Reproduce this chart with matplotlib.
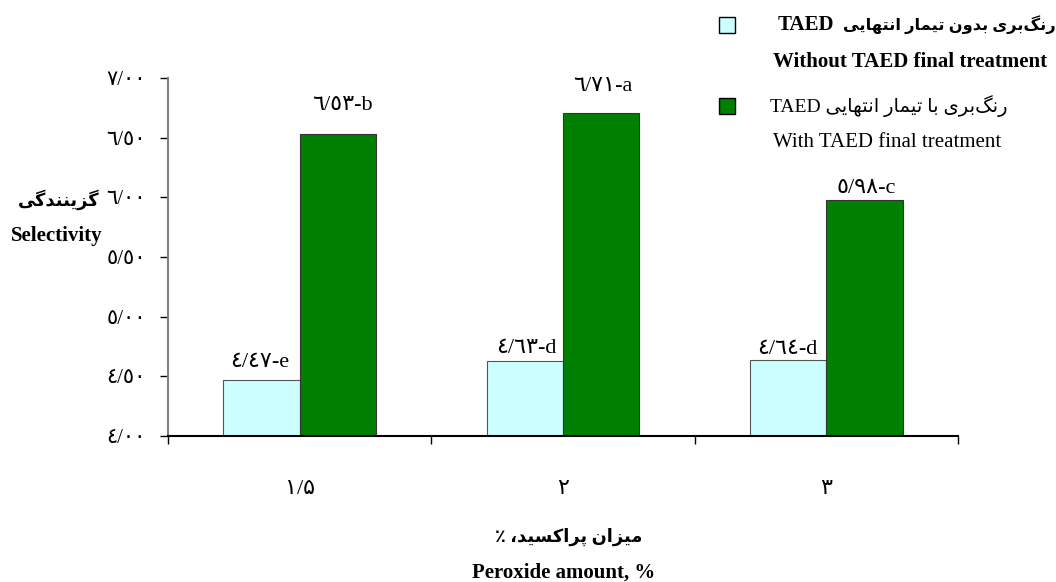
import numpy as np
import matplotlib
matplotlib.use('Agg')
import matplotlib.pyplot as plt
from matplotlib.patches import Rectangle

# Data
doses = ['١/۵', '٢', '٣']                  # peroxide amount, %
without_taed = [4.47, 4.63, 4.64]
with_taed = [6.53, 6.71, 5.98]
without_letters = ['e', 'd', 'd']
with_letters = ['b', 'a', 'c']
y_ticks = [4.0, 4.5, 5.0, 5.5, 6.0, 6.5, 7.0]

LIGHT = '#CCFFFF'
GREEN = '#008000'
FONT = ['Liberation Serif', 'DejaVu Sans']

plt.rcParams['font.family'] = FONT
plt.rcParams['font.size'] = 15

# contextual forms (isolated, final, initial, medial)
FORMS = {
    'ا': ('\uFE8D', '\uFE8E', None, None),
    'ب': ('\uFE8F', '\uFE90', '\uFE91', '\uFE92'),
    'پ': ('\uFB56', '\uFB57', '\uFB58', '\uFB59'),
    'ت': ('\uFE95', '\uFE96', '\uFE97', '\uFE98'),
    'د': ('\uFEA9', '\uFEAA', None, None),
    'ر': ('\uFEAD', '\uFEAE', None, None),
    'ز': ('\uFEAF', '\uFEB0', None, None),
    'س': ('\uFEB1', '\uFEB2', '\uFEB3', '\uFEB4'),
    'ک': ('\uFB8E', '\uFB8F', '\uFB90', '\uFB91'),
    'گ': ('\uFB92', '\uFB93', '\uFB94', '\uFB95'),
    'م': ('\uFEE1', '\uFEE2', '\uFEE3', '\uFEE4'),
    'ن': ('\uFEE5', '\uFEE6', '\uFEE7', '\uFEE8'),
    'ه': ('\uFEE9', '\uFEEA', '\uFEEB', '\uFEEC'),
    'و': ('\uFEED', '\uFEEE', None, None),
    'ی': ('\uFBFC', '\uFBFD', '\uFBFE', '\uFBFF'),
}


def rtl(text):
    """Shape a Persian run and return it in visual (left-to-right) order."""
    def dual(c):
        return c in FORMS and FORMS[c][2] is not None

    out = []
    for i, c in enumerate(text):
        if c == '\u200c':
            continue
        if c not in FORMS:
            out.append(c)
            continue
        prev = text[i - 1] if i > 0 else ''
        nxt = text[i + 1] if i + 1 < len(text) else ''
        jp = dual(prev)
        jn = dual(c) and nxt in FORMS
        iso, fin, ini, med = FORMS[c]
        if jp and jn:
            out.append(med)
        elif jp:
            out.append(fin)
        elif jn:
            out.append(ini)
        else:
            out.append(iso)
    return ''.join(reversed(out))


def arabic_num(v):
    """4.47 -> ٤/٤٧"""
    s = f'{v:.2f}'.replace('.', '/')
    return s.translate(str.maketrans('0123456789', '٠١٢٣٤٥٦٧٨٩'))


fig = plt.figure(figsize=(10.56, 5.82), dpi=100)
ax = fig.add_axes([0.1591, 0.2509, 0.7481, 0.6151])

x = np.arange(len(doses))
w = 0.29
ax.bar(x - w / 2, without_taed, w, bottom=0, color=LIGHT, edgecolor='#555555', linewidth=0.8, zorder=2)
ax.bar(x + w / 2, with_taed, w, bottom=0, color=GREEN, edgecolor='#333333', linewidth=0.8, zorder=2)

# value labels (offsets follow the hand placed labels in the original)
light_off = [(-2, 8), (1, 3), (-1, 1)]
green_off = [(5, 19), (2, 17), (2, 2)]
for i in range(len(doses)):
    ax.annotate(arabic_num(without_taed[i]) + '-' + without_letters[i],
                (x[i] - w / 2, without_taed[i]), xytext=np.array(light_off[i]) * 0.72,
                textcoords='offset points', ha='center', va='bottom', fontsize=16)
    ax.annotate(arabic_num(with_taed[i]) + '-' + with_letters[i],
                (x[i] + w / 2, with_taed[i]), xytext=np.array(green_off[i]) * 0.72,
                textcoords='offset points', ha='center', va='bottom', fontsize=16)

ax.set_ylim(4.0, 7.0)
ax.set_xlim(-0.5, len(doses) - 0.5)

ax.set_yticks(y_ticks)
ax.set_yticklabels([arabic_num(t) for t in y_ticks], fontsize=15)
ax.tick_params(axis='y', direction='out', length=6, width=1, pad=10, colors='black')

# category boundaries as major ticks, labels on minor ticks
ax.set_xticks(np.arange(len(doses) + 1) - 0.5)
ax.set_xticklabels([])
ax.set_xticks(x, minor=True)
ax.set_xticklabels(doses, minor=True, fontsize=16)
ax.tick_params(axis='x', which='major', direction='out', length=6, width=1)
ax.tick_params(axis='x', which='minor', length=0, pad=32)

for s in ['top', 'right']:
    ax.spines[s].set_visible(False)
ax.spines['left'].set_color('#808080')
ax.spines['left'].set_linewidth(1.5)
ax.spines['bottom'].set_color('black')
ax.spines['bottom'].set_linewidth(1.5)

# axis titles
fig.text(0.0559, 0.6564, rtl('گزینندگی'), ha='center', va='center', fontweight='bold', fontsize=12.8)
fig.text(0.0540, 0.5945, 'Selectivity', ha='center', va='center', fontweight='bold')
fig.text(0.5388, 0.0773, rtl('میزان پراکسید، ٪'), ha='center', va='center', fontweight='bold',
         fontsize=12.8)
fig.text(0.5340, 0.0155, 'Peroxide amount, %', ha='center', va='center', fontweight='bold')

# legend
fig.add_artist(Rectangle((0.6809, 0.9433), 0.01515, 0.0275, transform=fig.transFigure,
                         facecolor=LIGHT, edgecolor='black', linewidth=1))
fig.add_artist(Rectangle((0.6809, 0.8041), 0.01515, 0.0275, transform=fig.transFigure,
                         facecolor=GREEN, edgecolor='black', linewidth=1))
fig.text(0.736, 0.957, 'TAED', ha='left', va='center', fontweight='bold')
fig.text(0.9995, 0.957, rtl('رنگ‌بری بدون تیمار انتهایی'), ha='right', va='center',
         fontweight='bold', fontsize=11.7)
fig.text(0.732, 0.8935, 'Without TAED final treatment', ha='left', va='center', fontweight='bold')
fig.text(0.729, 0.8179, 'TAED ' + rtl('رنگ‌بری با تیمار انتهایی'), ha='left', va='center', fontsize=14)
fig.text(0.732, 0.756, 'With TAED final treatment', ha='left', va='center')

fig.savefig('out.png', dpi=100)
